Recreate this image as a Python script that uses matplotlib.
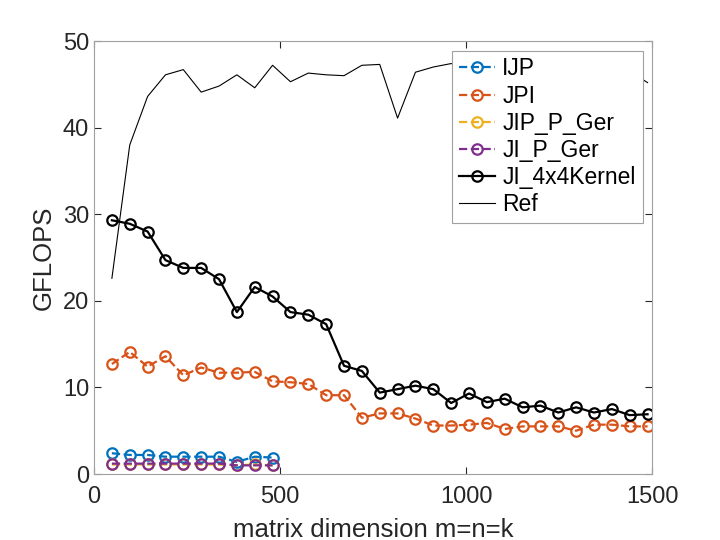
"""
GFLOPS of several matrix-multiply variants against matrix size (MATLAB-style look)
"""
import numpy as np
import matplotlib
matplotlib.use('Agg')
import matplotlib.pyplot as plt

plt.rcParams['font.family'] = ['Liberation Sans', 'DejaVu Sans']

# matrix sizes m=n=k
n_all = np.arange(48, 1489, 48)
n_small = n_all[:10]

ijp = [2.4, 2.2, 2.2, 2.0, 2.0, 2.0, 2.0, 1.4, 2.0, 1.9]
jip_p_ger = [1.1, 1.1, 1.1, 1.1, 1.1, 1.1, 1.1, 1.0, 1.1, 1.0]
ji_p_ger = [1.2, 1.2, 1.2, 1.2, 1.2, 1.2, 1.2, 1.0, 1.0, 1.0]
jpi = [12.7, 14.1, 12.4, 13.6, 11.4, 12.3, 11.7, 11.7, 11.8, 10.7,
       10.6, 10.4, 9.1, 9.1, 6.5, 7.0, 7.0, 6.4, 5.6, 5.6,
       5.7, 5.9, 5.2, 5.5, 5.5, 5.5, 5.0, 5.7, 5.7, 5.5, 5.5]
ji_4x4 = [29.3, 28.9, 28.0, 24.7, 23.8, 23.8, 22.5, 18.7, 21.6, 20.5,
          18.7, 18.4, 17.3, 12.5, 11.9, 9.4, 9.8, 10.2, 9.8, 8.2,
          9.3, 8.3, 8.7, 7.7, 7.9, 7.1, 7.7, 7.1, 7.5, 6.8, 6.9]
ref = [22.6, 38.0, 43.6, 46.1, 46.7, 44.1, 44.8, 46.1, 44.6, 47.2,
       45.3, 46.3, 46.1, 46.0, 47.2, 47.3, 41.1, 46.4, 47.0, 47.4,
       46.8, 47.2, 46.5, 47.0, 46.9, 47.3, 46.6, 47.1, 46.8, 46.5, 45.2]

fig = plt.figure(figsize=(7.2, 5.4), dpi=100)
ax = fig.add_axes([0.1306, 0.1222, 0.775, 0.8018])

mk = dict(marker='o', markersize=7.5, markerfacecolor='none', markeredgewidth=1.6)
ax.plot(n_small, ijp, '--', color='#0072BD', linewidth=1.6, label='IJP', **mk)
ax.plot(n_all, jpi, '--', color='#D95319', linewidth=1.6, label='JPI', **mk)
ax.plot(n_small, jip_p_ger, '--', color='#EDB120', linewidth=1.6, label='JIP_P_Ger', **mk)
ax.plot(n_small, ji_p_ger, '--', color='#7E2F8E', linewidth=1.6, label='JI_P_Ger', **mk)
ax.plot(n_all, ji_4x4, '-', color='black', linewidth=1.6, label='JI_4x4Kernel', **mk)
ax.plot(n_all, ref, '-', color='black', linewidth=0.8, label='Ref')

ax.set_xlim(0, 1500)
ax.set_ylim(0, 50)
ax.set_xticks([0, 500, 1000, 1500])
ax.set_yticks([0, 10, 20, 30, 40, 50])
ax.tick_params(direction='in', top=True, right=True, labelsize=17,
               colors='#262626', length=5, width=0.8)
ax.tick_params(axis='x', pad=8.5)
for s in ax.spines.values():
    s.set_color('#a0a0a0')
    s.set_linewidth(0.8)
for t in ax.xaxis.get_ticklines() + ax.yaxis.get_ticklines():
    t.set_color('#707070')

ax.set_xlabel('matrix dimension m=n=k', fontsize=18.5, color='#262626', labelpad=7)
ax.set_ylabel('GFLOPS', fontsize=18.5, color='#262626', labelpad=5)

leg = ax.legend(loc='upper right', bbox_to_anchor=(0.983, 0.978), fontsize=16.5,
                frameon=True, fancybox=False, framealpha=1, borderpad=0.3,
                labelspacing=0.18, handlelength=1.6, handletextpad=0.3,
                borderaxespad=0)
leg.get_frame().set_edgecolor('#a0a0a0')
leg.get_frame().set_linewidth(0.8)
for t in leg.get_texts():
    t.set_color('black')

fig.savefig('out.png', dpi=100)
